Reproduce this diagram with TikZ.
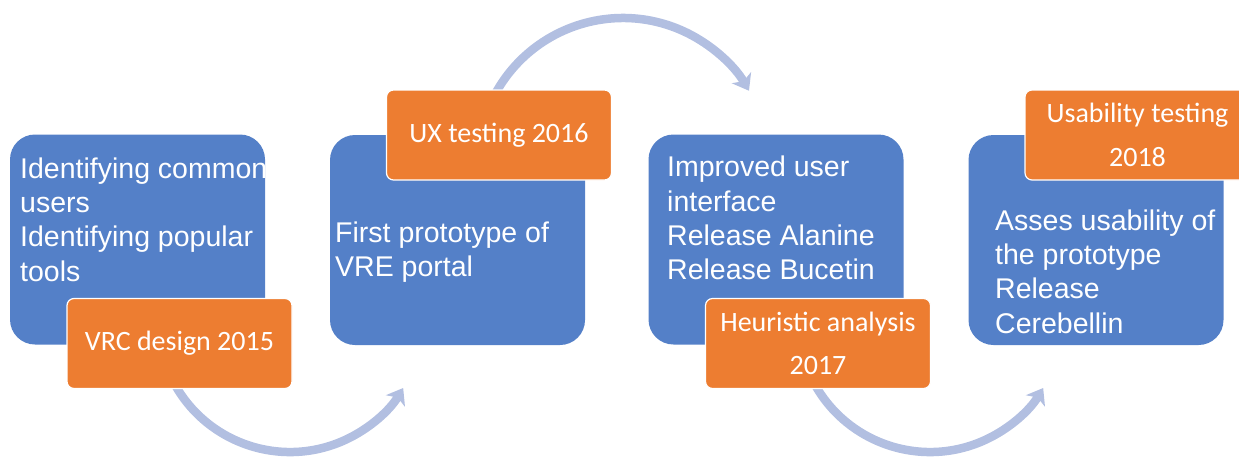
\documentclass[tikz,border=0pt]{standalone}
\usepackage{fontspec}
\newfontfamily\arialf{Liberation Sans}
\newfontfamily\calibrif{Carlito}
\usetikzlibrary{arrows.meta}
\definecolor{boxblue}{RGB}{84,128,200}
\definecolor{boxorange}{RGB}{237,125,49}
\definecolor{arcblue}{RGB}{178,191,225}
\begin{document}
\begin{tikzpicture}[x=1pt,y=-1pt,
  bluebox/.style={fill=boxblue, rounded corners=25pt, minimum width=255pt, minimum height=210pt, inner sep=0pt},
  orangebox/.style={fill=boxorange, draw=white, line width=1.2pt, rounded corners=7pt, minimum width=225pt, minimum height=90pt, inner sep=0pt, text=white, align=center, font=\calibrif\fontsize{28}{43.4}\selectfont},
  bluetext/.style={anchor=north west, inner sep=0pt, text=white, align=left, font=\arialf\fontsize{28.5}{34.3}\selectfont},
  cyclearrow/.style={draw=arcblue, line width=8.5pt, -{Stealth[length=15pt,width=22pt,inset=4pt]}}
]
\useasboundingbox (0,0) rectangle (1239,456);
\clip (0,0) rectangle (1239,456);

% blue boxes
\node[bluebox] (b1) at (137.5,239.5) {};
\node[bluebox] (b2) at (457.5,240) {};
\node[bluebox] (b3) at (776,239.5) {};
\node[bluebox] (b4) at (1096,240) {};

% blue texts
\node[bluetext] (t1) at (20,157.5) {Identifying common\\users\\Identifying popular\\tools};
\node[bluetext] (t2) at (335,221.5) {First prototype of\\VRE portal};
\node[bluetext] (t3) at (667,156) {Improved user\\interface\\Release Alanine\\Release Bucetin};
\node[bluetext] (t4) at (995,209.5) {Asses usability of\\the prototype\\Release\\Cerebellin};

% arcs
\coordinate (a1s) at (170.4,375.8);
\coordinate (a2s) at (494.5,95.2);
\coordinate (a3s) at (810.4,375.8);
\draw[cyclearrow] (a1s) arc[start angle=155, end angle=31, radius=132];
\draw[cyclearrow] (a2s) arc[start angle=-152, end angle=-30, radius=145.5];
\draw[cyclearrow] (a3s) arc[start angle=155, end angle=31, radius=132];

% orange boxes
\node[orangebox] (o1) at (179.5,343.5) {VRC design 2015};
\node[orangebox] (o2) at (499,135) {UX testing 2016};
\node[orangebox] (o3) at (818,343.5) {Heuristic analysis\\2017};
\node[orangebox] (o4) at (1137.5,135) {Usability testing\\2018};
\end{tikzpicture}
\end{document}
